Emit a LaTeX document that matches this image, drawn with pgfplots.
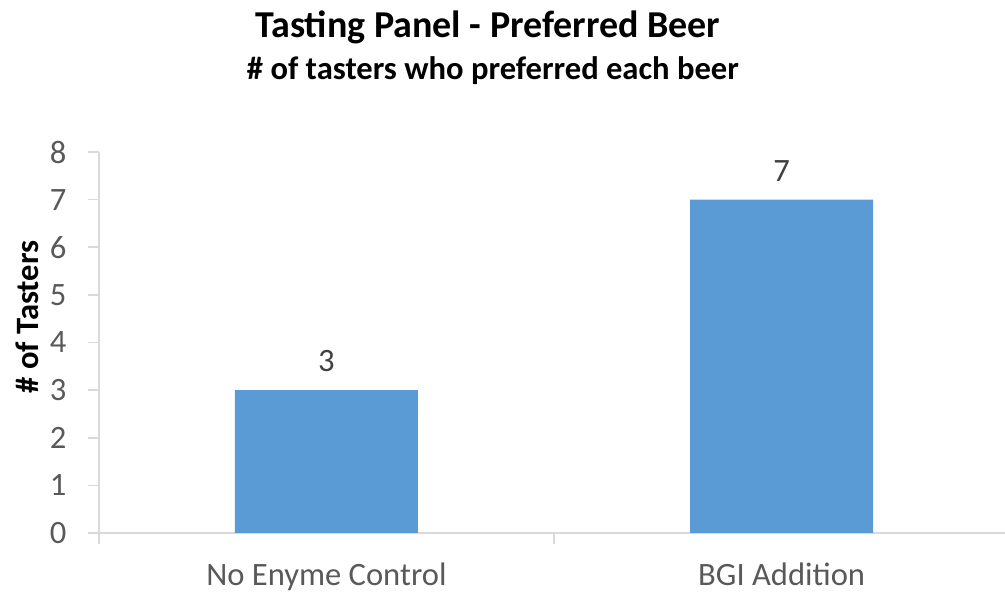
\documentclass[border=0pt]{standalone}
\usepackage{pgfplots}
\pgfplotsset{compat=1.18}
\usepackage{fontspec}
\setmainfont{Carlito}
\definecolor{barblue}{HTML}{5B9BD5}
\definecolor{axisgray}{HTML}{D9D9D9}
\definecolor{labelgray}{HTML}{595959}
\definecolor{valgray}{HTML}{404040}
\newcommand\tickfont{\fontsize{16.3}{18}\selectfont}

\begin{document}
\begin{tikzpicture}
\useasboundingbox (0,0) rectangle (502.5pt,296pt);
\begin{axis}[
  scale only axis,
  width=453pt, height=190.5pt,
  at={(49.375pt,29.5pt)}, anchor=south west,
  xmin=-0.5, xmax=1.49, ymin=0, ymax=8,
  ybar, bar width=91.5pt,
  axis x line*=bottom, axis y line*=left,
  axis line style={axisgray, line width=0.8pt},
  tick align=outside,
  major tick length=5.5pt,
  tick style={axisgray, line width=0.8pt},
  /pgf/number format/assume math mode=true,
  ytick={0,1,...,8},
  xtick={-0.5,0.5,1.5},
  xticklabels={},
  extra x ticks={0,1},
  extra x tick labels={No Enyme Control, BGI Addition},
  extra x tick style={major tick length=0pt},
  xticklabel style={font=\tickfont, text=labelgray, anchor=base, yshift=-26.5pt},
  yticklabel style={font=\tickfont, text=labelgray, anchor=east, inner sep=0pt, xshift=-10.5pt},
  nodes near coords,
  every node near coord/.append style={font=\tickfont, text=valgray, anchor=south, inner sep=0pt, yshift=9pt},
]
\addplot[fill=barblue, draw=none] coordinates {(0,3) (1,7)};
\end{axis}
\node[anchor=base, inner sep=0pt, font=\fontsize{19}{22}\selectfont\bfseries] at (244pt,277pt) {Tasting Panel - Preferred Beer};
\node[anchor=base, inner sep=0pt, font=\fontsize{16.3}{18}\selectfont\bfseries] at (246.5pt,256pt) {\# of tasters who preferred each beer};
\node[rotate=90, inner sep=0pt, font=\fontsize{16.3}{18}\selectfont\bfseries] at (13.5pt,137.5pt) {\# of Tasters};
\end{tikzpicture}
\end{document}
